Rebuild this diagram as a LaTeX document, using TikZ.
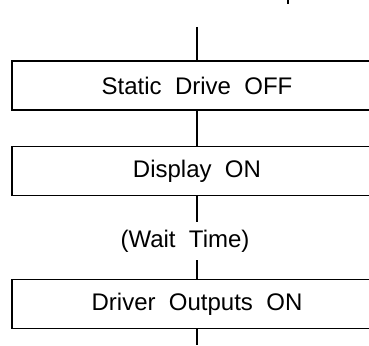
\documentclass[tikz,border=0pt]{standalone}
\usepackage{fontspec}
\setmainfont{Liberation Sans}
\usetikzlibrary{positioning}
\tikzset{
    % Define style for the boxes
    kasse/.style={
           rectangle,
           draw=black, line width=1.2pt,
           minimum width=370pt,
           minimum height=49pt,
           inner sep=0pt,
           text centered},
    % Define style for the free text
    tekst/.style={
           inner sep=0pt,
           minimum height=38pt},
    % Define line style
    linje/.style={
           line width=1.2pt}
}
\begin{document}
\begin{tikzpicture}[x=1pt,y=-1pt,font=\fontsize{24}{28}\selectfont]
\useasboundingbox (0,0) rectangle (369,345);
% Boxes, from top to bottom
\node[kasse] (sdOff) at (197,85.5) {Static\ \ Drive\ \ OFF};
\node[kasse] (dispOn) at (197,171) {Display\ \ ON};
\node[tekst] (wait) at (185,241) {(Wait\ \ Time)};
\node[kasse] (drvOn) at (197,304) {Driver\ \ Outputs\ \ ON};

% Free ends
\coordinate (start) at (197,27);
\coordinate (end) at (197,345);
\coordinate (tick) at (288,0);

% Now connect the nodes
\draw[linje] (start) -- (sdOff.north);
\draw[linje] (sdOff.south) -- (dispOn.north);
\draw[linje] (dispOn.south) -- (dispOn.south |- wait.north);
\draw[linje] (drvOn.north |- wait.south) -- (drvOn.north);
\draw[linje] (drvOn.south) -- (end);
\draw[linje] (tick) -- ++(0,4);
\end{tikzpicture}
\end{document}
